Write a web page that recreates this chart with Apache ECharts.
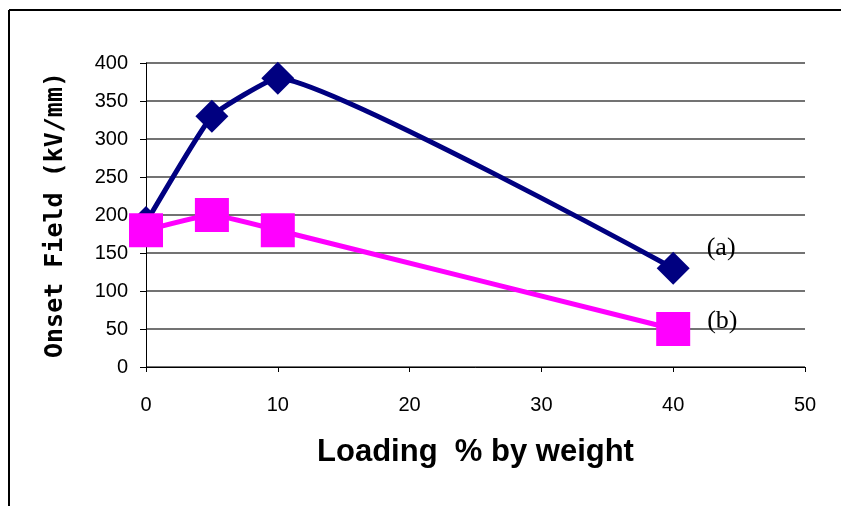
<!DOCTYPE html>
<html><head><meta charset="utf-8">
<script src="https://cdn.jsdelivr.net/npm/echarts@6/dist/echarts.min.js"></script>
<style>html,body{margin:0;padding:0;background:#fff}#c{width:841px;height:506px}</style>
</head><body><div id="c"></div>
<script>
const loading = [0, 5, 10, 40];
const seriesA = [190, 330, 380, 130];
const seriesB = [180, 200, 180, 50];
const labelA = '(a)';
const labelB = '(b)';
const xTitle = 'Loading  % by weight';
const yTitle = 'Onset Field (kV/mm)';

const chart = echarts.init(document.getElementById('c'));
function pts(vals, lbl, dy) {
  return loading.map((x, i) => {
    const o = {value: [x, vals[i]]};
    if (i === loading.length - 1) {
      o.label = {show: true, formatter: lbl, position: 'right', offset: [12, dy],
        fontFamily: 'Liberation Serif', fontSize: 26, color: '#000'};
    }
    return o;
  });
}
chart.setOption({
  animation: false,
  grid: {left: 146, right: 36, top: 63, bottom: 139},
  graphic: [
    {type: 'line', shape: {x1: 9, y1: 10, x2: 841, y2: 10}, style: {stroke: '#000', lineWidth: 2}},
    {type: 'line', shape: {x1: 9, y1: 10, x2: 9, y2: 506}, style: {stroke: '#000', lineWidth: 2}}
  ],
  xAxis: {
    type: 'value', min: 0, max: 50, interval: 10,
    name: xTitle, nameLocation: 'middle', nameGap: 70,
    nameTextStyle: {fontFamily: 'Liberation Sans', fontWeight: 'bold', fontSize: 31, color: '#000'},
    axisLine: {show: true, lineStyle: {color: '#000', width: 1}},
    axisTick: {show: true, inside: false, length: 5, lineStyle: {color: '#000'}},
    axisLabel: {fontFamily: 'Liberation Sans', fontSize: 20, color: '#000', margin: 28},
    splitLine: {show: false}
  },
  yAxis: {
    type: 'value', min: 0, max: 400, interval: 50,
    name: yTitle, nameLocation: 'middle', nameGap: 78, nameRotate: 90,
    nameTextStyle: {fontFamily: 'DejaVu Sans Mono', fontWeight: 'bold', fontSize: 25, color: '#000'},
    axisLine: {show: true, lineStyle: {color: '#000', width: 1}},
    axisTick: {show: true, length: 6, lineStyle: {color: '#000'}},
    axisLabel: {fontFamily: 'Liberation Sans', fontSize: 20, color: '#000', margin: 18},
    splitLine: {show: true, lineStyle: {color: '#444', width: 1.5}}
  },
  series: [
    {type: 'line', data: pts(seriesA, labelA, -20), smooth: 0.12,
      symbol: 'diamond', symbolSize: 33,
      lineStyle: {color: '#000080', width: 5}, itemStyle: {color: '#000080'}, z: 2},
    {type: 'line', data: pts(seriesB, labelB, -8), smooth: 0.12,
      symbol: 'rect', symbolSize: 34,
      lineStyle: {color: '#FF00FF', width: 5}, itemStyle: {color: '#FF00FF'}, z: 3}
  ]
});
</script></body></html>
